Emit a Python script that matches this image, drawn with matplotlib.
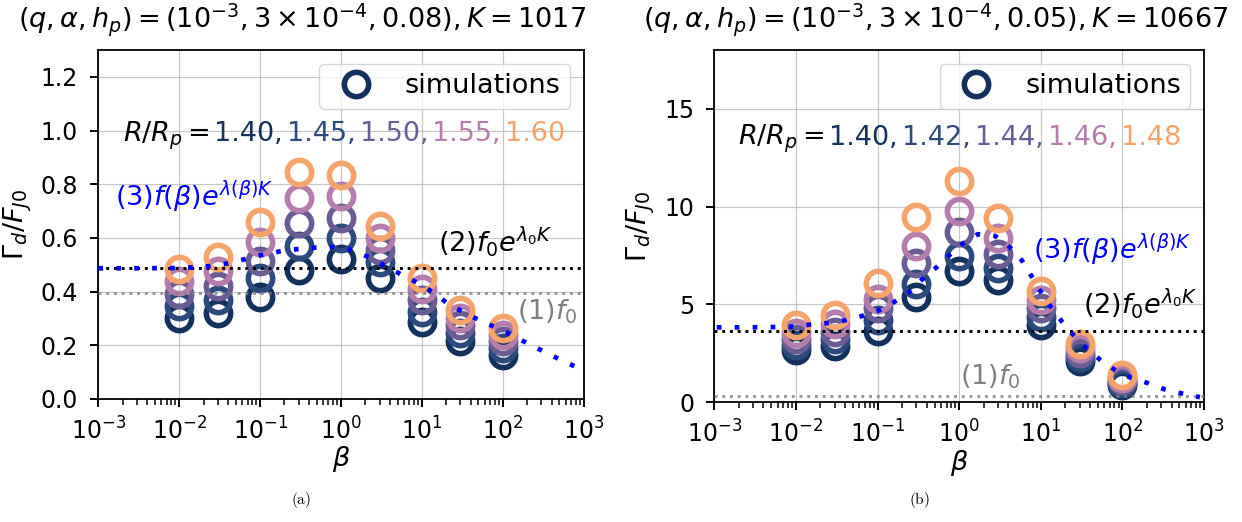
import numpy as np
import matplotlib
matplotlib.use("Agg")
import matplotlib.pyplot as plt
from matplotlib.offsetbox import TextArea, HPacker, AnnotationBbox

# %% data
beta = [0.01, 0.03, 0.1, 0.3, 1, 3, 10, 30, 100]

# panel (a): Gamma_d/F_J0 per R/R_p
ratios_a = ['1.40', '1.45', '1.50', '1.55', '1.60']
a_140 = [0.30, 0.32, 0.38, 0.48, 0.52, 0.45, 0.285, 0.215, 0.165]
a_145 = [0.345, 0.37, 0.45, 0.57, 0.60, 0.51, 0.325, 0.245, 0.19]
a_150 = [0.39, 0.42, 0.515, 0.655, 0.675, 0.555, 0.37, 0.275, 0.215]
a_155 = [0.44, 0.475, 0.585, 0.75, 0.755, 0.60, 0.41, 0.30, 0.24]
a_160 = [0.485, 0.53, 0.66, 0.845, 0.835, 0.645, 0.45, 0.33, 0.265]
f0_a = 0.395
f0exp_a = 0.487
curve_a_logbeta = [-3, -2.5, -2, -1.7, -1.4, -1.2, -1.0, -0.7, -0.4, -0.1, 0.15, 0.35,
                   0.55, 0.75, 0.95, 1.15, 1.3, 1.5, 1.7, 1.9, 2.1, 2.3, 2.5, 2.7, 2.9, 3.0]
curve_a = [0.487, 0.487, 0.488, 0.492, 0.505, 0.52, 0.535, 0.553, 0.563, 0.566, 0.555, 0.527,
           0.495, 0.463, 0.432, 0.395, 0.36, 0.326, 0.295, 0.268, 0.24, 0.208, 0.178, 0.148, 0.12, 0.107]

# panel (b)
ratios_b = ['1.40', '1.42', '1.44', '1.46', '1.48']
b_140 = [2.65, 2.9, 3.65, 5.4, 6.7, 6.25, 3.95, 2.1, 0.9]
b_142 = [2.95, 3.25, 4.2, 6.05, 7.5, 6.85, 4.35, 2.3, 1.0]
b_144 = [3.25, 3.6, 4.8, 7.1, 8.7, 7.6, 4.8, 2.5, 1.15]
b_146 = [3.55, 4.0, 5.3, 8.0, 9.75, 8.4, 5.25, 2.75, 1.25]
b_148 = [3.95, 4.45, 6.1, 9.45, 11.3, 9.4, 5.7, 3.0, 1.4]
f0_b = 0.34
f0exp_b = 3.65
curve_b_logbeta = [-2.97, -2.52, -2.08, -1.87, -1.65, -1.42, -1.19, -0.99, -0.81, -0.62, -0.46,
                   -0.29, -0.13, 0.05, 0.23, 0.44, 0.62, 0.77, 0.89, 1.0, 1.12, 1.26, 1.4,
                   1.56, 1.72, 1.91, 2.09, 2.32, 2.52, 2.72, 2.95]
curve_b = [3.83, 3.83, 3.86, 3.95, 4.03, 4.17, 4.41, 4.68, 5.09, 5.6, 6.25,
           6.85, 7.48, 8.13, 8.59, 8.5, 7.92, 7.24, 6.42, 5.65, 4.89, 4.12, 3.44,
           2.76, 2.2, 1.65, 1.28, 0.97, 0.66, 0.46, 0.26]

colors = ['#14305c', '#2d4a7c', '#6a5d93', '#b57dab', '#f5a46c']

# %% style
fs = 19.5
tick_fs = 17
plt.rcParams['font.size'] = fs
plt.rcParams['axes.linewidth'] = 1.3

fig = plt.figure(figsize=(12.42, 5.22), dpi=100)
W, H = 1242, 522
ax_a = fig.add_axes([98.3 / W, 1 - 399 / H, 485.4 / W, 349 / H])
ax_b = fig.add_axes([714.3 / W, 1 - 402.3 / H, 489.7 / W, 352.3 / H])


def draw_panel(ax, series, ratios, f0, f0exp, clog, cval, ylim, pos):
    for i, vals in enumerate(series):
        ax.plot(beta, vals, 'o', ms=17.5, mfc='none', mec=colors[i], mew=4,
                label='simulations' if i == 0 else None, zorder=3)
    ax.axhline(f0exp, color='black', ls=':', lw=2.1, zorder=4)
    ax.axhline(f0, color='gray', ls=':', lw=2.1, alpha=0.8, zorder=4)
    ax.plot(10 ** np.array(clog), cval, color='blue', lw=3.4, ls=(0, (1, 2.8)), zorder=5)
    ax.set_xscale('log')
    ax.set_xlim(1e-3, 1e3)
    ax.set_ylim(*ylim)
    ax.set_xticks([1e-3, 1e-2, 1e-1, 1, 1e1, 1e2, 1e3])
    ax.tick_params(which='major', labelsize=tick_fs, length=6, width=1.4)
    ax.tick_params(which='minor', length=4, width=1.1)
    ax.tick_params(axis='x', which='major', pad=7)
    ax.tick_params(axis='y', which='major', pad=8.5)
    ax.grid(True, which='major', color='#b0b0b0', alpha=0.7, lw=0.9)
    ax.set_xlabel(r'$\beta$', labelpad=0)
    ax.set_ylabel(r'$\Gamma_d/F_{J0}$', labelpad=5)
    ax.legend(loc='upper right', fontsize=fs, borderpad=0.35)

    # R/R_p = colored list, baseline aligned
    parts = [TextArea(r'$R/R_p=$', textprops=dict(color='black', fontsize=fs))]
    for i, r in enumerate(ratios):
        s = r + (',' if i < len(ratios) - 1 else '')
        parts.append(TextArea(s, textprops=dict(color=colors[i], fontsize=fs)))
    pack = HPacker(children=parts, align='baseline', pad=0, sep=3)
    ax.add_artist(AnnotationBbox(pack, pos['R'], xycoords='axes fraction', frameon=False,
                                 box_alignment=(0, 0.5), pad=0))

    ax.text(pos['c3'][0], pos['c3'][1], r'$(3)f(\beta)e^{\lambda(\beta)K}$', color='blue',
            transform=ax.transAxes, va='center', fontsize=fs)
    ax.text(pos['c2'][0], pos['c2'][1], r'$(2)f_0e^{\lambda_0K}$', color='black',
            transform=ax.transAxes, va='center', fontsize=fs)
    ax.text(pos['c1'][0], pos['c1'][1], r'$(1)f_0$', color='gray',
            transform=ax.transAxes, va='center', fontsize=fs)


draw_panel(ax_a, [a_140, a_145, a_150, a_155, a_160], ratios_a, f0_a, f0exp_a,
           curve_a_logbeta, curve_a, (0, 1.3),
           {'R': (0.051, 0.755), 'c3': (0.035, 0.58), 'c2': (0.70, 0.45), 'c1': (0.862, 0.25)})
ax_a.set_yticks(np.arange(0, 1.21, 0.2))

draw_panel(ax_b, [b_140, b_142, b_144, b_146, b_148], ratios_b, f0_b, f0exp_b,
           curve_b_logbeta, curve_b, (0, 18),
           {'R': (0.049, 0.747), 'c3': (0.651, 0.432), 'c2': (0.752, 0.281), 'c1': (0.502, 0.073)})
ax_b.set_yticks([0, 5, 10, 15])

fig.text(302 / W, 1 - 20 / H, r'$(q,\alpha,h_p)=(10^{-3},3\times10^{-4},0.08),K=1017$',
         ha='center', va='center', fontsize=fs)
fig.text(936 / W, 1 - 20 / H, r'$(q,\alpha,h_p)=(10^{-3},3\times10^{-4},0.05),K=10667$',
         ha='center', va='center', fontsize=fs)

fig.text(301 / W, 1 - 500 / H, r'$\mathrm{(a)}$', math_fontfamily='cm', ha='center',
         va='center', fontsize=11)
fig.text(919 / W, 1 - 500 / H, r'$\mathrm{(b)}$', math_fontfamily='cm', ha='center',
         va='center', fontsize=11)

fig.savefig('out.png', dpi=100)
